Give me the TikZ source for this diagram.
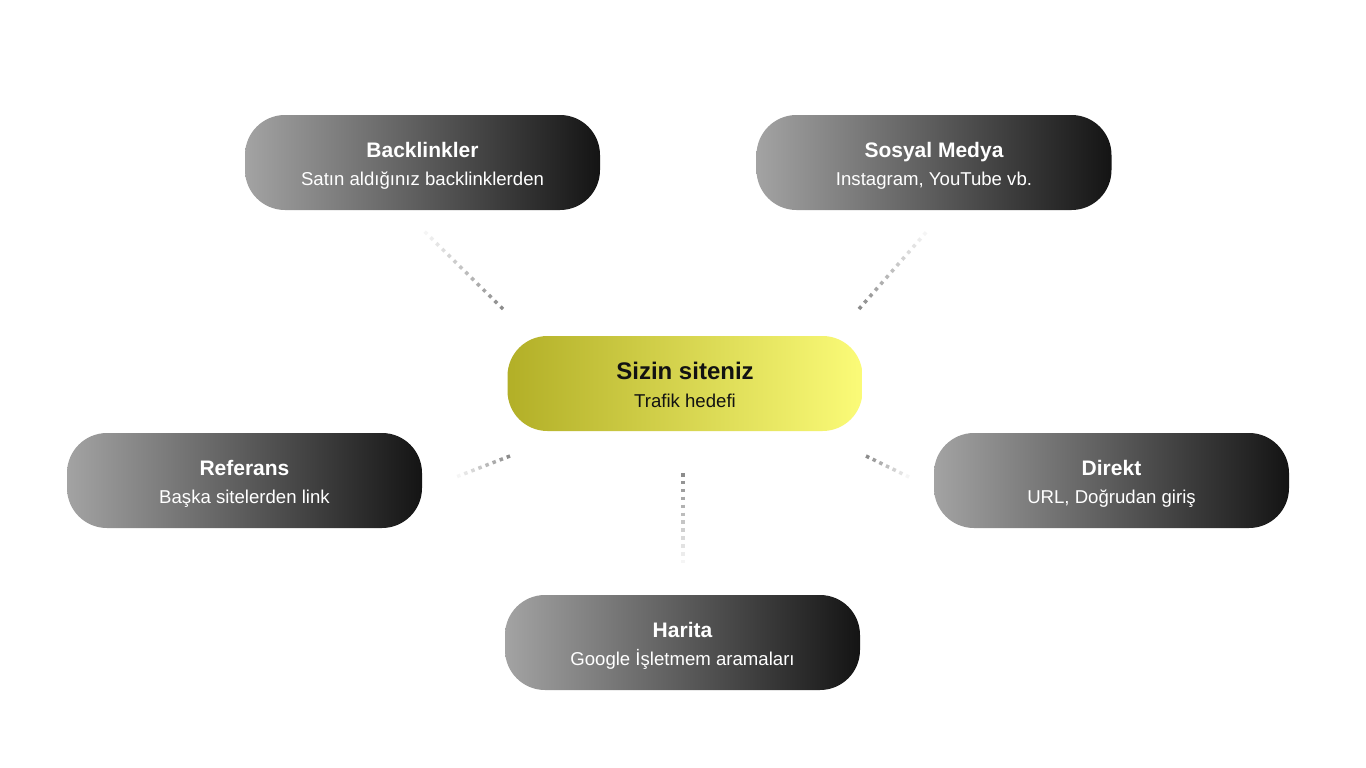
\documentclass[tikz,border=0pt]{standalone}
\usepackage{fontspec}
\setmainfont{Liberation Sans}
\usetikzlibrary{calc}
\definecolor{gL}{HTML}{A3A3A3}
\definecolor{gR}{HTML}{141414}
\definecolor{yL}{HTML}{B2AF27}
\definecolor{yR}{HTML}{FBFB78}
\definecolor{dotc}{HTML}{8C8C8C}
\tikzset{
  pill/.style={rounded corners=40pt, minimum width=355pt, minimum height=95pt,
    inner sep=0pt, align=center, font=\fontsize{18.6}{28}\selectfont},
  darkpill/.style={pill, left color=gL, right color=gR, text=white},
  sitepill/.style={pill, left color=yL, right color=yR, text=black!93},
  dotline/.style={draw=dotc, line width=3.5pt, line cap=butt},
}
\newcommand\pilltitle[1]{\rule{0pt}{21.5pt}{\bfseries\fontsize{21}{28}\selectfont #1}}
\newcommand\sitetitle[1]{\rule{0pt}{21pt}{\bfseries\fontsize{24}{28}\selectfont #1}}
\newcommand\fadedots[4]{%
  \foreach \i in {0,...,#3}{%
    \pgfmathsetmacro\da{\i*#4}%
    \pgfmathsetmacro\db{\i*#4+3.5}%
    \pgfmathsetmacro\op{1-0.92*\i/#3}%
    \draw[dotline, draw opacity=\op] ($(#1)!\da pt!(#2)$) -- ($(#1)!\db pt!(#2)$);
  }}
\begin{document}
\begin{tikzpicture}[x=1pt,y=-1pt]
\useasboundingbox (0,0) rectangle (1366,768);
\fill[white] (0,0) rectangle (1366,768);

\node[darkpill] (bl) at (422.5,162.5) {\pilltitle{Backlinkler}\\Satın aldığınız backlinklerden};
\node[darkpill] (sm) at (934,162.5) {\pilltitle{Sosyal Medya}\\Instagram, YouTube vb.};
\node[sitepill] (site) at (685,383.5) {\sitetitle{Sizin siteniz}\\Trafik hedefi};
\node[darkpill] (ref) at (244.5,480.5) {\pilltitle{Referans}\\Başka sitelerden link};
\node[darkpill] (dir) at (1111.5,480.5) {\pilltitle{Direkt}\\URL, Doğrudan giriş};
\node[darkpill] (har) at (682.5,642.5) {\pilltitle{Harita}\\Google İşletmem aramaları};

\coordinate (blD) at (503,309);  \coordinate (blF) at (424,231);
\coordinate (smD) at (859,309);  \coordinate (smF) at (929,229);
\coordinate (refD) at (510,456); \coordinate (refF) at (456,477);
\coordinate (dirD) at (866,456); \coordinate (dirF) at (909,477);
\coordinate (harD) at (683,473); \coordinate (harF) at (683,563);

\fadedots{blD}{blF}{13}{8.2}
\fadedots{smD}{smF}{12}{8.2}
\fadedots{refD}{refF}{7}{7.6}
\fadedots{dirD}{dirF}{6}{7.4}
\fadedots{harD}{harF}{11}{7.9}
\end{tikzpicture}
\end{document}
